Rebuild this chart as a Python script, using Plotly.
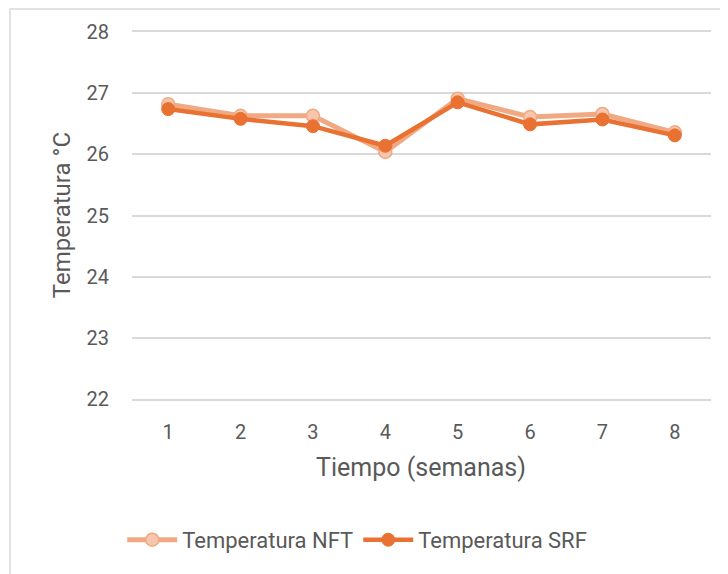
import plotly.graph_objects as go

semanas = [1, 2, 3, 4, 5, 6, 7, 8]
temp_nft = [26.82, 26.63, 26.63, 26.04, 26.91, 26.61, 26.66, 26.36]
temp_srf = [26.74, 26.58, 26.46, 26.14, 26.85, 26.49, 26.57, 26.31]
y_ticks = [22, 23, 24, 25, 26, 27, 28]

gray_text = "#595959"
grid_color = "#D9D9D9"
font_name = "Roboto"

fig = go.Figure()

fig.add_trace(go.Scatter(
    x=semanas, y=temp_nft, name="Temperatura NFT",
    mode="lines+markers",
    line=dict(color="#F1A983", width=5),
    marker=dict(size=13, color="#F6C6AD", line=dict(color="#F1A983", width=1.5)),
))
fig.add_trace(go.Scatter(
    x=semanas, y=temp_srf, name="Temperatura SRF",
    mode="lines+markers",
    line=dict(color="#E97132", width=4.5),
    marker=dict(size=13, color="#E97132", line=dict(color="#E97132", width=1)),
))

# the page adds an 8px body margin, so margins are 8px smaller on top/left
fig.update_layout(
    width=728, height=574,
    margin=dict(l=124, r=25, t=24, b=183),
    paper_bgcolor="white", plot_bgcolor="white",
    font=dict(family=font_name, size=20, color=gray_text),
    showlegend=True,
    legend=dict(
        orientation="h", x=0.389, xanchor="center", y=-0.384, yanchor="middle",
        font=dict(size=22, color=gray_text), itemwidth=50,
        bgcolor="rgba(0,0,0,0)",
    ),
)

# x axis line + mirror give the 22 and 28 grid lines at the edges
fig.update_xaxes(
    type="category", range=[-0.5, 7.5],
    showgrid=False, zeroline=False, ticks="",
    showline=True, mirror=True, linecolor=grid_color, linewidth=1.5,
    tickfont=dict(size=20, color=gray_text), ticklabelstandoff=14,
)
fig.update_yaxes(
    range=[22, 28], tickvals=y_ticks,
    showgrid=True, gridcolor=grid_color, gridwidth=1.5,
    zeroline=False, showline=False, ticks="",
    tickfont=dict(size=20, color=gray_text), ticklabelstandoff=22,
)

fig.add_annotation(
    text="Tiempo (semanas)", xref="paper", yref="paper",
    x=0.499, y=-0.1853, xanchor="center", yanchor="middle",
    showarrow=False, font=dict(size=25, color=gray_text),
)
fig.add_annotation(
    text="Temperatura °C", xref="paper", yref="paper",
    x=-0.1209, y=0.501, xanchor="center", yanchor="middle", textangle=-90,
    showarrow=False, font=dict(size=24, color=gray_text),
)

# chart border (only left and top visible in the crop)
fig.add_shape(
    type="rect", xref="paper", yref="paper",
    x0=-0.2107, x1=1.5, y0=-1.0, y1=1.0627,
    line=dict(color=grid_color, width=1.5), layer="below",
)

fig.write_html("out.html")
